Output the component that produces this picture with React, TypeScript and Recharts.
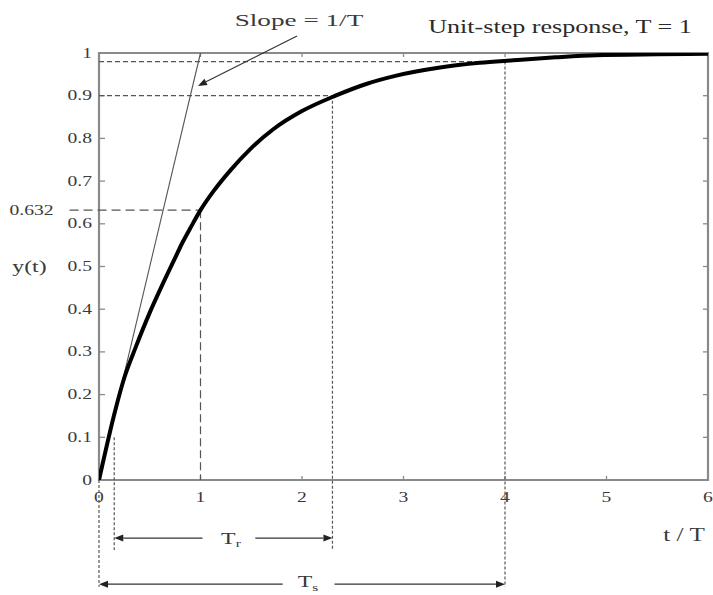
import React from "react";
import { LineChart, Line, XAxis, YAxis, ReferenceLine, ReferenceDot, ReferenceArea } from "recharts";

// step response (t / T, y)
const timeValues = [0, 0.16, 0.25, 0.36, 0.5, 0.62, 0.75, 0.82, 0.9, 1.0, 1.13, 1.29, 1.49, 1.72, 2.0, 2.33, 2.64, 2.93, 3.36, 3.75, 4.08, 4.5, 4.9, 5.5, 6.0];
const responseValues = [0, 0.163, 0.24, 0.31, 0.392, 0.455, 0.52, 0.555, 0.59, 0.632, 0.677, 0.724, 0.775, 0.822, 0.864, 0.9, 0.928, 0.947, 0.966, 0.977, 0.983, 0.99, 0.995, 0.997, 0.998];

const xTicks = [0, 1, 2, 3, 4, 5, 6];
const yTicks = [0, 0.1, 0.2, 0.3, 0.4, 0.5, 0.6, 0.7, 0.8, 0.9, 1];

// annotation levels / times
const tauTime = 1;
const tauLevel = 0.632;
const riseStart = 0.15;
const riseEnd = 2.3;
const riseLow = 0.1;
const riseHigh = 0.9;
const settleTime = 4;
const settleLevel = 0.98;
const riseArrowY = -0.136;
const settleArrowY = -0.244;
const riseDropY = -0.164;
const settleDropY = -0.25;

const data = timeValues.map((t, i) => ({ t, y: responseValues[i] }));

const FONT = '"Liberation Serif", "Times New Roman", serif';
const AXIS = "#8a8a8a";
const INK = "#3a3a3a";
const GUIDE = "#555";

function StretchText({ x, y, text, size, anchor = "middle", sx = 1.4, sub, fill = INK }: any) {
    return (
        <text
            transform={`translate(${x},${y}) scale(${sx},1)`}
            textAnchor={anchor}
            dominantBaseline="central"
            fontFamily={FONT}
            fontSize={size}
            fill={fill}
        >
            {text}
            {sub && (
                <tspan dy={5} fontSize={size * 0.65}>
                    {sub}
                </tspan>
            )}
        </text>
    );
}

const label = (text: string, size: number, extra: any = {}) => (p: any) =>
    <StretchText x={p.cx} y={p.cy} text={text} size={size} {...extra} />;

// line with a filled head at (x2, y2)
const ArrowShape = (props: any) => {
    const { x1, y1, x2, y2 } = props;
    const ang = Math.atan2(y2 - y1, x2 - x1);
    const len = 9;
    const half = 3.5;
    const bx = x2 - len * Math.cos(ang);
    const by = y2 - len * Math.sin(ang);
    const px = -Math.sin(ang) * half;
    const py = Math.cos(ang) * half;
    return (
        <g>
            <line x1={x1} y1={y1} x2={bx} y2={by} stroke="#333" strokeWidth={1.2} />
            <polygon points={`${x2},${y2} ${bx + px},${by + py} ${bx - px},${by - py}`} fill="#222" />
        </g>
    );
};

// small inward ticks on the left/right frame edges
const InnerYTick = (p: any) => (
    <g>
        <line x1={p.x1} y1={p.y1} x2={p.x1 + 6} y2={p.y1} stroke={AXIS} strokeWidth={1.3} />
        <line x1={p.x2 - 5} y1={p.y2} x2={p.x2} y2={p.y2} stroke={AXIS} strokeWidth={1.3} />
    </g>
);

// small inward ticks on the bottom/top frame edges
const InnerXTick = (p: any) => {
    const top = Math.min(p.y1, p.y2);
    const bottom = Math.max(p.y1, p.y2);
    return (
        <g>
            <line x1={p.x1} y1={bottom} x2={p.x1} y2={bottom - 4} stroke={AXIS} strokeWidth={1.3} />
            <line x1={p.x1} y1={top} x2={p.x1} y2={top + 4} stroke={AXIS} strokeWidth={1.3} />
        </g>
    );
};

const fmt = (v: number) => (v === 0 ? "0" : String(v));

const LeftTick = (p: any) => <StretchText x={p.x} y={p.y} text={fmt(p.payload.value)} size={14} anchor="end" />;

const BottomTick = (p: any) => <StretchText x={p.x} y={p.y} text={fmt(p.payload.value)} size={14} />;

export default function App() {
    return (
        <div style={{ position: "absolute", left: 0, top: 0, width: 713, height: 595, background: "#fff" }}>
            <LineChart width={713} height={595} data={data} margin={{ top: 53, right: 5, left: 0, bottom: 0 }}>
                <XAxis
                    dataKey="t"
                    type="number"
                    domain={[0, 6]}
                    ticks={xTicks}
                    allowDataOverflow
                    height={115}
                    tickSize={0}
                    tickMargin={17}
                    axisLine={false}
                    tick={<BottomTick />}
                />
                <YAxis
                    type="number"
                    domain={[0, 1]}
                    ticks={yTicks}
                    allowDataOverflow
                    width={99}
                    tickSize={0}
                    tickMargin={7}
                    axisLine={false}
                    tick={<LeftTick />}
                />

                {/* frame and inner ticks */}
                <ReferenceArea x1={0} x2={6} y1={0} y2={1} fill="none" stroke={AXIS} strokeWidth={2.2} ifOverflow="visible" />
                {yTicks.slice(1, -1).map((v) => (
                    <ReferenceLine key={`yt-${v}`} y={v} shape={InnerYTick} />
                ))}
                {xTicks.slice(1, -1).map((v) => (
                    <ReferenceLine key={`xt-${v}`} x={v} shape={InnerXTick} />
                ))}

                {/* horizontal guides */}
                <ReferenceLine segment={[{ x: 0, y: settleLevel }, { x: settleTime, y: settleLevel }]} stroke={GUIDE} strokeWidth={1.2} strokeDasharray="5 3" ifOverflow="visible" />
                <ReferenceLine segment={[{ x: 0, y: riseHigh }, { x: riseEnd, y: riseHigh }]} stroke={GUIDE} strokeWidth={1.2} strokeDasharray="5 3" ifOverflow="visible" />
                <ReferenceLine segment={[{ x: -0.29, y: tauLevel }, { x: tauTime, y: tauLevel }]} stroke={GUIDE} strokeWidth={1.2} strokeDasharray="9 5" ifOverflow="visible" />

                {/* vertical guides */}
                <ReferenceLine segment={[{ x: tauTime, y: tauLevel }, { x: tauTime, y: 0 }]} stroke={GUIDE} strokeWidth={1.2} strokeDasharray="8 4" ifOverflow="visible" />
                <ReferenceLine segment={[{ x: riseStart, y: riseLow }, { x: riseStart, y: riseDropY }]} stroke={GUIDE} strokeWidth={1.2} strokeDasharray="3 2" ifOverflow="visible" />
                <ReferenceLine segment={[{ x: riseEnd, y: riseHigh }, { x: riseEnd, y: riseDropY }]} stroke={GUIDE} strokeWidth={1.2} strokeDasharray="3 2" ifOverflow="visible" />
                <ReferenceLine segment={[{ x: settleTime, y: settleLevel }, { x: settleTime, y: settleDropY }]} stroke={GUIDE} strokeWidth={1.2} strokeDasharray="3 2" ifOverflow="visible" />
                <ReferenceLine segment={[{ x: 0, y: 0 }, { x: 0, y: settleDropY }]} stroke={GUIDE} strokeWidth={1.2} strokeDasharray="3 2" ifOverflow="visible" />

                {/* tangent, slope 1/T */}
                <ReferenceLine segment={[{ x: 0, y: 0 }, { x: 1, y: 1 }]} stroke="#555" strokeWidth={1.1} ifOverflow="visible" />

                {/* arrows */}
                <ReferenceLine segment={[{ x: 1.951, y: 1.04 }, { x: 0.975, y: 0.923 }]} shape={ArrowShape} ifOverflow="visible" />
                <ReferenceLine segment={[{ x: 1.02, y: riseArrowY }, { x: riseStart, y: riseArrowY }]} shape={ArrowShape} ifOverflow="visible" />
                <ReferenceLine segment={[{ x: 1.54, y: riseArrowY }, { x: riseEnd, y: riseArrowY }]} shape={ArrowShape} ifOverflow="visible" />
                <ReferenceLine segment={[{ x: 1.81, y: settleArrowY }, { x: 0, y: settleArrowY }]} shape={ArrowShape} ifOverflow="visible" />
                <ReferenceLine segment={[{ x: 2.32, y: settleArrowY }, { x: settleTime, y: settleArrowY }]} shape={ArrowShape} ifOverflow="visible" />

                <Line
                    type="monotone"
                    dataKey="y"
                    stroke="#000"
                    strokeWidth={4}
                    dot={false}
                    isAnimationActive={false}
                />

                {/* text */}
                <ReferenceDot x={1.97} y={1.077} ifOverflow="visible" shape={label("Slope = 1/T", 17, { sx: 1.6 })} />
                <ReferenceDot x={4.542} y={1.06} ifOverflow="visible" shape={label("Unit-step response, T = 1", 18, { sx: 1.45, fill: "#2a2a2a" })} />
                <ReferenceDot x={-0.665} y={tauLevel} ifOverflow="visible" shape={label("0.632", 14)} />
                <ReferenceDot x={-0.685} y={0.5} ifOverflow="visible" shape={label("y(t)", 17)} />
                <ReferenceDot x={5.764} y={-0.129} ifOverflow="visible" shape={label("t / T", 18)} />
                <ReferenceDot x={1.3} y={riseArrowY} ifOverflow="visible" shape={label("T", 17, { sub: "r" })} />
                <ReferenceDot x={2.06} y={-0.238} ifOverflow="visible" shape={label("T", 17, { sub: "s" })} />
            </LineChart>
        </div>
    );
}
